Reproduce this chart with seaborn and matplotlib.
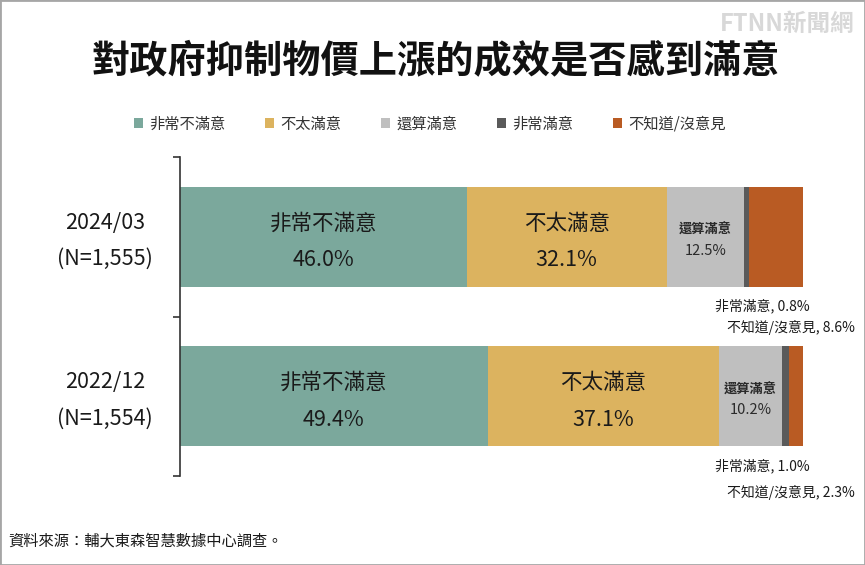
import numpy as np
import pandas as pd
import matplotlib
matplotlib.use("Agg")
import matplotlib.pyplot as plt
import matplotlib.transforms as mtransforms
from matplotlib.patches import Patch, Rectangle
import seaborn as sns

sns.set_style("white")
plt.rcParams["font.family"] = ["Noto Sans CJK TC", "DejaVu Sans"]

# ------------------------------------------------------
# Data
# ------------------------------------------------------
periods = ["2024/03", "2022/12"]
sample_sizes = ["(N=1,555)", "(N=1,554)"]
categories = ["非常不滿意", "不太滿意", "還算滿意", "非常滿意", "不知道/沒意見"]
very_unsatisfied = [46.0, 49.4]
not_satisfied = [32.1, 37.1]
fairly_satisfied = [12.5, 10.2]
very_satisfied = [0.8, 1.0]
no_opinion = [8.6, 2.3]

colors = ["#7ba89c", "#dcb35f", "#bfbfbf", "#5a5a5a", "#b95b23"]

df = pd.DataFrame(
    {
        "period": periods,
        categories[0]: very_unsatisfied,
        categories[1]: not_satisfied,
        categories[2]: fairly_satisfied,
        categories[3]: very_satisfied,
        categories[4]: no_opinion,
    }
)
cum = df[categories].cumsum(axis=1)

# ------------------------------------------------------
# Plot
# ------------------------------------------------------
fig = plt.figure(figsize=(8.65, 5.65), dpi=100)
ax = fig.add_axes([180 / 865, 1 - 476 / 565, 623 / 865, 319 / 565])

bar_h = 0.627
# stacked bars: draw cumulative totals from the last category backwards
for cat, col in reversed(list(zip(categories, colors))):
    sns.barplot(
        x=cum[cat], y=df["period"], orient="h", color=col,
        width=bar_h, linewidth=0, saturation=1, ax=ax,
    )

ax.set_xlim(0, 100)
ax.set_ylim(1.5, -0.5)
ax.set_xlabel("")
ax.set_ylabel("")
ax.set_xticks([])
ax.set_yticks([0, 1])
ax.set_yticklabels([])
ax.set_yticks([-0.5, 0.5, 1.5], minor=True)
ax.tick_params(axis="y", which="major", length=0)
ax.tick_params(axis="y", which="minor", left=True, length=5, width=1.2,
               color="#333333", direction="out")
for s in ["top", "right", "bottom"]:
    ax.spines[s].set_visible(False)
ax.spines["left"].set_color("#333333")
ax.spines["left"].set_linewidth(1.2)

# category labels on the left
trans = mtransforms.blended_transform_factory(ax.transAxes, ax.transData)
for i, (p, n) in enumerate(zip(periods, sample_sizes)):
    ax.annotate(p, xy=(-75 / 623, i), xycoords=trans, xytext=(0, 10),
                textcoords="offset points", ha="center", va="center",
                fontsize=15.5, color="#1a1a1a", annotation_clip=False)
    ax.annotate(n, xy=(-75 / 623, i), xycoords=trans, xytext=(0, -16),
                textcoords="offset points", ha="center", va="center",
                fontsize=15.5, color="#1a1a1a", annotation_clip=False)

# segment labels
for i in range(len(periods)):
    for j, cat in enumerate(categories[:3]):
        val = df.loc[i, cat]
        xc = cum.loc[i, cat] - val / 2
        if j < 2:
            ax.annotate(cat, xy=(xc, i), xytext=(0, 9.5), textcoords="offset points",
                        ha="center", va="center", fontsize=15.5, color="#1a1a1a")
            ax.annotate(f"{val:.1f}%", xy=(xc, i), xytext=(0, -17), textcoords="offset points",
                        ha="center", va="center", fontsize=15.5, color="#1a1a1a")
        else:
            ax.annotate(cat, xy=(xc, i), xytext=(0, 5), textcoords="offset points",
                        ha="center", va="center", fontsize=9.5, fontweight="bold", color="#2a2a2a")
            ax.annotate(f"{val:.1f}%", xy=(xc, i), xytext=(0, -10), textcoords="offset points",
                        ha="center", va="center", fontsize=10.5, color="#2a2a2a")
    # small segments labelled below the bar
    ax.annotate(f"{categories[3]}, {df.loc[i, categories[3]]:.1f}%", xy=(100, i + bar_h / 2),
                xytext=(5, -14), textcoords="offset points", ha="right", va="center",
                fontsize=10, color="#1a1a1a", annotation_clip=False)
    ax.annotate(f"{categories[4]}, {df.loc[i, categories[4]]:.1f}%", xy=(100, i + bar_h / 2),
                xytext=(37, -29 - 4 * i), textcoords="offset points", ha="right", va="center",
                fontsize=10, color="#1a1a1a", annotation_clip=False)

# legend
handles = [Patch(facecolor=c, edgecolor="none") for c in colors]
fig.legend(handles, categories, loc="center", bbox_to_anchor=(430 / 865, 1 - 124 / 565),
           ncol=5, frameon=False, fontsize=11, handlelength=0.6, handleheight=0.6,
           handletextpad=0.4, columnspacing=2.6, labelcolor="#333333")

# title, logo, source
fig.text(436 / 865, 1 - 61 / 565, "對政府抑制物價上漲的成效是否感到滿意", ha="center", va="center",
         fontsize=27.5, fontweight="bold", color="#111111")
fig.text(855 / 865, 1 - 24 / 565, "FTNN新聞網", ha="right", va="center", fontsize=17,
         fontweight="bold", style="italic", color="#d8d8d8")
fig.text(8 / 865, 1 - 541 / 565, "資料來源：輔大東森智慧數據中心調查。", ha="left", va="center",
         fontsize=11, color="#1a1a1a")

fig.patches.append(Rectangle((0, 0), 1, 1, transform=fig.transFigure, fill=False,
                             edgecolor="#a6a6a6", linewidth=2))

fig.savefig("out.png", dpi=100)
